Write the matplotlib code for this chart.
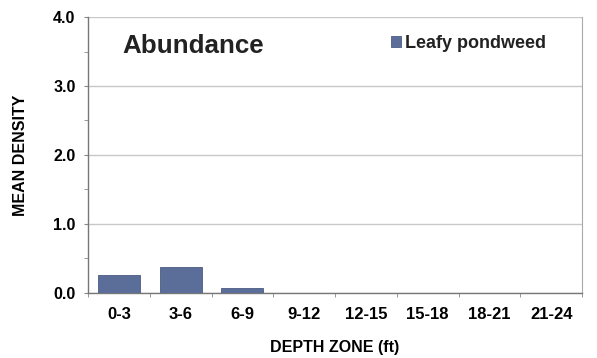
import matplotlib
matplotlib.use("Agg")
import matplotlib.pyplot as plt
from matplotlib.ticker import MultipleLocator

# depth zones and mean density
zones = ["0-3", "3-6", "6-9", "9-12", "12-15", "15-18", "18-21", "21-24"]
leafy_pondweed = [0.26, 0.38, 0.07, 0.0, 0.0, 0.0, 0.0, 0.0]

plt.rcParams["font.family"] = ["Liberation Sans", "DejaVu Sans"]
plt.rcParams["font.weight"] = "bold"

fig = plt.figure(figsize=(5.97, 3.58), dpi=100)
ax = fig.add_axes([0.1474, 0.1816, 0.8276, 0.7709])

x = range(len(zones))
ax.bar(x, leafy_pondweed, width=0.68, color="#5b6e99", edgecolor="#4a5a80",
       linewidth=0.6, label="Leafy pondweed", zorder=3)

ax.set_xlim(-0.5, len(zones) - 0.5)
ax.set_ylim(0, 4.0)
ax.yaxis.set_minor_locator(MultipleLocator(0.5))
ax.set_yticks([0, 1, 2, 3, 4])
ax.set_yticklabels(["0.0", "1.0", "2.0", "3.0", "4.0"], fontsize=11.5, fontweight="bold")
ax.set_xticks(list(x))
ax.set_xticklabels(zones, fontsize=12, fontweight="bold")
ax.set_xticks([i + 0.5 for i in range(-1, len(zones))], minor=True)
ax.tick_params(axis="x", which="major", length=0, pad=10)
ax.tick_params(axis="x", which="minor", length=3, color="#888888")
ax.tick_params(axis="y", which="both", length=3, color="#888888", pad=6)

ax.grid(axis="y", which="major", color="#c8c8c8", linewidth=1.0, zorder=0)
for side in ["left", "bottom"]:
    ax.spines[side].set_color("#777777")
    ax.spines[side].set_linewidth(1.0)
ax.spines["right"].set_color("#aaaaaa")
ax.spines["top"].set_visible(False)

ax.set_xlabel("DEPTH ZONE (ft)", fontsize=11.5, fontweight="bold", labelpad=13)
ax.set_ylabel("MEAN DENSITY", fontsize=11.5, fontweight="bold", labelpad=18)

ax.text(0.07, 0.895, "Abundance", transform=ax.transAxes, fontsize=18.7,
        fontweight="bold", color="#222222", va="center", ha="left")

leg = ax.legend(loc="upper right", bbox_to_anchor=(0.942, 0.96), frameon=False,
                fontsize=13, handlelength=0.55, handleheight=0.55,
                handletextpad=0.25, borderaxespad=0)
for t in leg.get_texts():
    t.set_fontweight("bold")
    t.set_color("#222222")

fig.savefig("out.png", dpi=100)
